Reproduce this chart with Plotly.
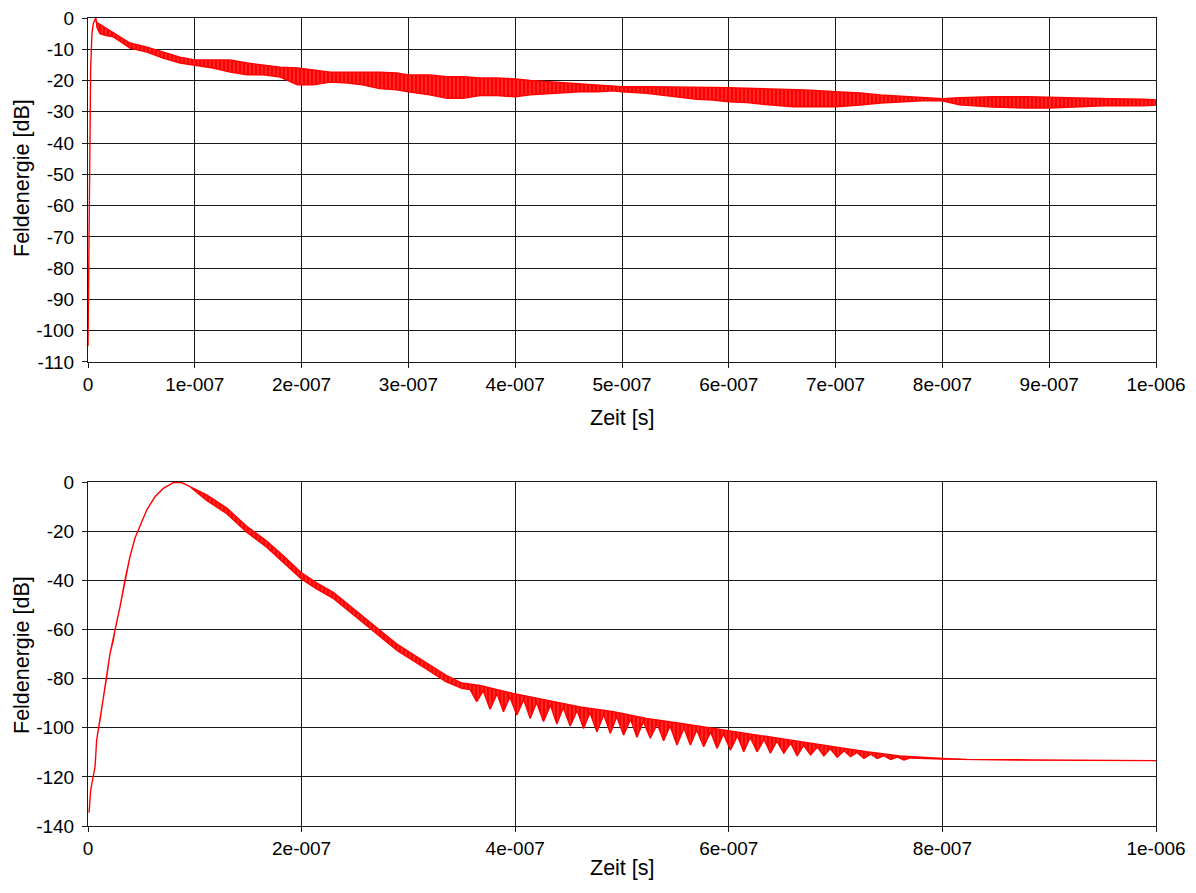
import plotly.graph_objects as go

T_UNIT = 1e-7  # time arrays below are in units of 1e-7 s

# ---------------- Top chart: envelope of field energy (dB) ----------------
top_t = [0.0, 0.01, 0.02, 0.025, 0.037, 0.05, 0.072, 0.084,
         0.112, 0.16, 0.234, 0.393, 0.552, 0.702, 0.861, 1.0,
         1.17, 1.33, 1.49, 1.64, 1.80, 1.96, 2.11, 2.27,
         2.43, 2.57, 2.73, 2.89, 3.0, 3.2, 3.36, 3.51,
         3.67, 3.83, 4.0, 4.14, 4.30, 4.45, 4.61, 4.77,
         4.92, 5.0, 5.23, 5.38, 5.54, 5.70, 5.85, 6.0,
         6.17, 6.32, 6.60, 6.72, 7.0, 7.23, 7.42, 7.60,
         7.86, 8.0, 8.16, 8.47, 8.79, 9.0, 9.26, 9.57,
         9.88, 10.0]
top_hi = [-105, -75, -40, -16, -5, -1.7, 0, -1.6,
          -2, -3, -4.8, -8, -9.3, -10.9, -12.5, -13.4,
          -13.4, -13.4, -14.4, -15, -15.7, -16, -16.6, -17.3,
          -17.3, -17.3, -17.3, -17.6, -18.2, -18.2, -18.8, -18.8,
          -19.2, -19.2, -19.5, -20, -20.4, -20.8, -21.1, -21.4,
          -22, -22, -22, -22, -22, -22, -22.2, -22.3,
          -22.5, -22.5, -22.8, -23, -23.6, -24, -24.6, -25,
          -25.5, -25.8, -25.5, -25.2, -25.2, -25.3, -25.5, -25.8,
          -26, -26.2]
top_lo = [-105, -75, -40, -16, -5, -1.7, 0, -3,
          -5, -5.5, -6, -9.6, -10.9, -12.8, -14.4, -15,
          -16, -17.3, -18.2, -18.2, -18.9, -21.4, -21.4, -20.5,
          -20.8, -21.4, -22.6, -23, -23.6, -24.6, -25.7, -25.7,
          -24.8, -24.8, -25.2, -24.6, -24.2, -23.9, -23.6, -23.6,
          -23.3, -23.6, -24.1, -24.6, -25.3, -26, -26.2, -26.8,
          -27, -27.6, -28.4, -28.4, -28.4, -27.8, -27.2, -26.8,
          -26.4, -26.5, -27.8, -28.5, -28.8, -28.8, -28.5, -28,
          -28.1, -27.8]

top_x_ticks = [0, 1e-7, 2e-7, 3e-7, 4e-7, 5e-7, 6e-7, 7e-7, 8e-7, 9e-7, 1e-6]
top_x_labels = ["0", "1e-007", "2e-007", "3e-007", "4e-007", "5e-007",
                "6e-007", "7e-007", "8e-007", "9e-007", "1e-006"]
top_y_ticks = [0, -10, -20, -30, -40, -50, -60, -70, -80, -90, -100, -110]
top_y_labels = ["0", "-10", "-20", "-30", "-40", "-50", "-60", "-70",
                "-80", "-90", "-100", "-110"]

# ---------------- Bottom chart ----------------
bot_hi_t = [0.01, 0.025, 0.066, 0.081, 0.112, 0.143, 0.175, 0.206, 0.237,
            0.253, 0.30, 0.346, 0.393, 0.44, 0.487, 0.55, 0.627, 0.705,
            0.80, 0.877, 0.955, 1.111, 1.30, 1.486, 1.673, 1.829, 2.0,
            2.14, 2.30, 2.45, 2.60, 2.75, 2.90, 3.05, 3.20, 3.35, 3.50,
            3.67, 3.98, 4.295, 4.607, 4.92, 5.23, 5.54, 5.85, 6.17, 6.48,
            6.67, 6.98, 7.29, 7.60, 8.0, 8.23, 8.85, 10.0]
bot_hi = [-134.6, -125.4, -115.9, -105, -96.9, -87.5, -79.3, -69.8, -64.3,
          -60.2, -50.7, -39.9, -30.4, -22.8, -18.2, -11.4, -6, -2.6,
          -0.2, -0.2, -1.9, -5.2, -10.6, -18.0, -24.0, -30.0, -37.0,
          -41.0, -45.0, -50.3, -55.5, -61.0, -66.2, -70.3, -74.4, -78.6, -81.8,
          -82.8, -86, -88.7, -91.5, -93.5, -96.2, -98.2, -100.2, -102.3, -104.3,
          -105.7, -107.7, -109.8, -111.5, -112.5, -112.9, -113.1, -113.3]

bot_lo_t = [0.01, 0.025, 0.066, 0.081, 0.112, 0.143, 0.175, 0.206, 0.237,
            0.253, 0.30, 0.346, 0.393, 0.44, 0.487, 0.55, 0.627, 0.705,
            0.80, 0.877, 0.955, 1.111, 1.30, 1.486, 1.673, 1.829, 2.0,
            2.14, 2.30, 2.45, 2.60, 2.75, 2.90, 3.05, 3.20, 3.35, 3.50,
            3.578, 3.64, 3.70, 3.765, 3.83, 3.89, 3.95, 4.015, 4.08, 4.14,
            4.20, 4.265, 4.33, 4.39, 4.45, 4.515, 4.58, 4.64, 4.70, 4.765,
            4.83, 4.89, 4.95, 5.015, 5.08, 5.14, 5.20, 5.265, 5.33, 5.39,
            5.45, 5.515, 5.58, 5.64, 5.70, 5.765, 5.83, 5.89, 5.95, 6.015,
            6.08, 6.14, 6.20, 6.265, 6.33, 6.39, 6.45, 6.515, 6.58, 6.64,
            6.70, 6.765, 6.83, 6.89, 6.95, 7.015, 7.08, 7.14, 7.20, 7.265,
            7.33, 7.39, 7.45, 7.515, 7.58, 7.64, 7.70,
            8.0, 8.5, 9.0, 10.0]
bot_lo = [-134.6, -125.4, -115.9, -105, -96.9, -87.5, -79.3, -69.8, -64.3,
          -60.2, -50.7, -39.9, -30.4, -22.8, -18.2, -11.4, -6, -2.6,
          -0.2, -0.2, -1.9, -7.5, -12.9, -20.4, -26.5, -32.5, -39.5,
          -43.5, -47.5, -52.8, -58, -63.5, -68.7, -72.8, -77, -81.2, -84,
          -84.5, -89.4, -85, -92.5, -86.2, -93.5, -87.5, -94.8, -88.6, -96.2,
          -89.7, -97.5, -90.8, -98.5, -91.9, -99.3, -93, -100.3, -93.9, -101.6,
          -94.7, -102.3, -95.5, -103, -96.6, -103.9, -97.6, -104.3, -98.5, -105.3,
          -99.3, -107, -100.2, -107, -100.9, -107.7, -101.7, -108.4, -102.5, -109.1,
          -103.3, -109.8, -104, -109.8, -104.8, -110.4, -105.5, -110.4, -106.3, -111.5,
          -107.2, -111.1, -107.9, -111.5, -108.6, -112, -109.4, -111.8, -110.1, -112.5,
          -110.8, -112.5, -111.4, -112.9, -112, -113.1, -112.3,
          -112.8, -113.1, -113.3, -113.4]

bot_x_ticks = [0, 2e-7, 4e-7, 6e-7, 8e-7, 1e-6]
bot_x_labels = ["0", "2e-007", "4e-007", "6e-007", "8e-007", "1e-006"]
bot_y_ticks = [0, -20, -40, -60, -80, -100, -120, -140]
bot_y_labels = ["0", "-20", "-40", "-60", "-80", "-100", "-120", "-140"]

RED = "#ff0000"
FONT = "Liberation Sans, Arial, sans-serif"

fig = go.Figure()


def add_band(t_hi, y_hi, t_lo, y_lo, xa, ya):
    xs = [v * T_UNIT for v in t_hi] + [v * T_UNIT for v in reversed(t_lo)]
    ys = list(y_hi) + list(reversed(y_lo))
    fig.add_trace(go.Scatter(
        x=xs, y=ys, mode="lines", fill="toself",
        fillcolor=RED,
        fillpattern=dict(shape="|", size=4, solidity=0.2,
                         fgcolor="rgba(255,190,190,1)", bgcolor=RED),
        line=dict(color=RED, width=1.4),
        hoverinfo="skip", showlegend=False, xaxis=xa, yaxis=ya))


add_band(top_t, top_hi, top_t, top_lo, "x", "y")
add_band(bot_hi_t, bot_hi, bot_lo_t, bot_lo, "x2", "y2")

axis_common = dict(showgrid=True, gridcolor="#1a1a1a", gridwidth=1,
                   showline=True, linecolor="#1a1a1a", linewidth=1, mirror=True,
                   ticks="outside", ticklen=5, tickcolor="#1a1a1a",
                   zeroline=False, ticklabeloverflow="allow",
                   tickfont=dict(family=FONT, size=19, color="black"))

title_font = dict(family=FONT, size=21.5, color="black")

# page is offset by the 8px body margin, so figure coordinates = page - 8
fig.update_layout(
    width=1180, height=877,
    margin=dict(l=80, r=32, t=10, b=59, autoexpand=False),
    paper_bgcolor="white", plot_bgcolor="white",
    font=dict(family=FONT, color="black"),
    xaxis=dict(domain=[0, 1], anchor="y", range=[0, 1e-6], automargin=False,
               tickvals=top_x_ticks, ticktext=top_x_labels, **axis_common),
    yaxis=dict(domain=[0.5743, 1], anchor="x", range=[-110, 0], automargin=False,
               tickvals=top_y_ticks, ticktext=top_y_labels,
               ticklabelstandoff=4, **axis_common),
    xaxis2=dict(domain=[0, 1], anchor="y2", range=[0, 1e-6], automargin=False,
                tickvals=bot_x_ticks, ticktext=bot_x_labels, **axis_common),
    yaxis2=dict(domain=[0, 0.4257], anchor="x2", range=[-140, 0], automargin=False,
                tickvals=bot_y_ticks, ticktext=bot_y_labels,
                ticklabelstandoff=4, **axis_common),
    annotations=[
        dict(text="Zeit [s]", xref="paper", yref="paper", x=0.5, y=(826 - 418) / 808,
             xanchor="center", yanchor="middle", showarrow=False, font=title_font),
        dict(text="Zeit [s]", xref="paper", yref="paper", x=0.5, y=(826 - 868) / 808,
             xanchor="center", yanchor="middle", showarrow=False, font=title_font),
        dict(text="Feldenergie [dB]", xref="paper", yref="paper", x=(22 - 88) / 1068,
             y=(826 - 178) / 808, textangle=-90, xanchor="center", yanchor="middle",
             showarrow=False, font=title_font),
        dict(text="Feldenergie [dB]", xref="paper", yref="paper", x=(22 - 88) / 1068,
             y=(826 - 655) / 808, textangle=-90, xanchor="center", yanchor="middle",
             showarrow=False, font=title_font),
    ],
)

fig.write_html("out.html")
